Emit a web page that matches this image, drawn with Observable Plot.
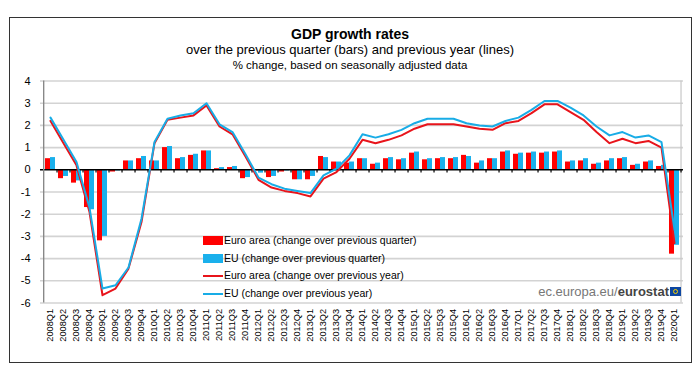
<!DOCTYPE html>
<html>
<head>
<meta charset="utf-8">
<script src="https://cdn.jsdelivr.net/npm/d3@7"></script>
<script src="https://cdn.jsdelivr.net/npm/@observablehq/plot@0.6"></script>
<style>
  html, body { margin: 0; padding: 0; background: #fff; }
  #wrap { position: relative; width: 696px; height: 387px; font-family: "Liberation Sans", Arial, sans-serif; color: #000; }
  #wrap svg { position: absolute; left: 0; top: 0; }
  .t { position: absolute; left: 9px; width: 682px; text-align: center; white-space: nowrap; }
  #border { position: absolute; left: 9px; top: 17px; width: 681px; height: 344px; border: 1px solid #333; pointer-events: none; }
  #legend { position: absolute; left: 203px; top: 232px; font-size: 10.5px; line-height: 17.6px; }
  #legend .row { display: flex; align-items: center; white-space: nowrap; }
  #legend .sw { width: 20px; display: inline-block; margin-right: 1px; }
  #wm { position: absolute; right: 15px; top: 284px; font-size: 13px; color: #777; display: flex; align-items: center; white-space: nowrap; }
  #wm b { color: #444; }
  #flag { display: inline-block; width: 11px; height: 9px; background: #0e47a1; margin-left: 1px; position: relative; }
  #flag::after { content: ""; position: absolute; left: 3px; top: 2px; width: 3px; height: 3px; border: 1px solid #f5d000; border-radius: 50%; }
</style>
</head>
<body>
<div id="wrap">
  <div class="t" style="top:26px;font-size:14px;font-weight:bold;">GDP growth rates</div>
  <div class="t" style="top:42px;font-size:13px;">over the previous quarter (bars) and previous year (lines)</div>
  <div class="t" style="top:59px;font-size:11.5px;">% change, based on seasonally adjusted data</div>
</div>
<script>
const quarters = [
  "2008Q1","2008Q2","2008Q3","2008Q4","2009Q1","2009Q2","2009Q3","2009Q4",
  "2010Q1","2010Q2","2010Q3","2010Q4","2011Q1","2011Q2","2011Q3","2011Q4",
  "2012Q1","2012Q2","2012Q3","2012Q4","2013Q1","2013Q2","2013Q3","2013Q4",
  "2014Q1","2014Q2","2014Q3","2014Q4","2015Q1","2015Q2","2015Q3","2015Q4",
  "2016Q1","2016Q2","2016Q3","2016Q4","2017Q1","2017Q2","2017Q3","2017Q4",
  "2018Q1","2018Q2","2018Q3","2018Q4","2019Q1","2019Q2","2019Q3","2019Q4",
  "2020Q1"
];
const euroAreaQoQ = [
  0.5, -0.4, -0.6, -1.7,  -3.2, -0.1, 0.4, 0.5,
  0.4, 1.0, 0.5, 0.65,    0.85, 0.05, 0.1, -0.4,
  -0.05, -0.35, -0.1, -0.45,  -0.45, 0.6, 0.35, 0.3,
  0.5, 0.25, 0.5, 0.45,   0.75, 0.45, 0.5, 0.5,
  0.65, 0.3, 0.5, 0.8,    0.7, 0.75, 0.75, 0.8,
  0.35, 0.4, 0.25, 0.4,   0.5, 0.2, 0.35, 0.15,
  -3.8
];
const euQoQ = [
  0.55, -0.3, -0.5, -1.8,  -3.0, -0.05, 0.4, 0.6,
  0.4, 1.05, 0.55, 0.7,    0.85, 0.1, 0.15, -0.35,
  -0.15, -0.3, -0.05, -0.45,  -0.3, 0.55, 0.35, 0.35,
  0.5, 0.3, 0.55, 0.5,     0.8, 0.5, 0.55, 0.55,
  0.6, 0.4, 0.5, 0.85,     0.75, 0.8, 0.8, 0.85,
  0.4, 0.5, 0.3, 0.5,      0.55, 0.25, 0.4, 0.2,
  -3.4
];
const euroAreaYoY = [
  2.2, 1.2, 0.2, -1.9,    -5.65, -5.35, -4.45, -2.35,
  1.2, 2.25, 2.35, 2.45,  2.9, 1.95, 1.6, 0.6,
  -0.45, -0.8, -0.95, -1.05,  -1.2, -0.4, -0.1, 0.5,
  1.35, 1.2, 1.35, 1.55,  1.85, 2.05, 2.05, 2.05,
  1.95, 1.85, 1.8, 2.1,   2.2, 2.55, 2.95, 2.95,
  2.6, 2.25, 1.7, 1.2,    1.4, 1.2, 1.3, 1.0,
  -3.3
];
const euYoY = [
  2.35, 1.35, 0.35, -1.7,  -5.35, -5.2, -4.4, -2.2,
  1.25, 2.3, 2.45, 2.55,   3.0, 2.05, 1.7, 0.7,
  -0.35, -0.65, -0.85, -0.95,  -1.05, -0.25, 0.05, 0.65,
  1.6, 1.45, 1.6, 1.8,     2.1, 2.3, 2.3, 2.3,
  2.1, 2.0, 1.95, 2.2,     2.35, 2.7, 3.1, 3.1,
  2.8, 2.45, 1.95, 1.55,   1.7, 1.45, 1.55, 1.25,
  -2.7
];
const yTicks = [-6, -5, -4, -3, -2, -1, 0, 1, 2, 3, 4];
const legendLabels = [
  "Euro area (change over previous quarter)",
  "EU (change over previous quarter)",
  "Euro area (change over previous year)",
  "EU (change over previous year)"
];

const RED = "#ff0000", BLUE = "#1ab0ec", LRED = "#e8141b", LBLUE = "#18ace6";

const rows = quarters.map((q, i) => ({q, ea: euroAreaQoQ[i], eu: euQoQ[i], eaY: euroAreaYoY[i], euY: euYoY[i]}));
const step = (683 - 40) / (quarters.length + 0.24);

const chart = Plot.plot({
  width: 696,
  height: 387,
  marginLeft: 40,
  marginRight: 13,
  marginTop: 80.5,
  marginBottom: 84.5,
  style: {background: "transparent", fontFamily: "Liberation Sans, Arial, sans-serif"},
  x: {type: "band", domain: quarters, padding: 0.24, label: null},
  y: {domain: [-6, 4], label: null},
  marks: [
    Plot.ruleY(yTicks.filter(d => d !== 0), {y: d => d, stroke: "#d3d3d3", strokeWidth: 1.6}),
    Plot.ruleX([0], {x: () => quarters[quarters.length - 1], y1: -6, y2: 4, dx: step / 2, stroke: "#c8c8c8", strokeWidth: 1.2}),
    Plot.barY(rows, {x: "q", y: "ea", fill: RED, insetRight: 5}),
    Plot.barY(rows, {x: "q", y: "eu", fill: BLUE, insetLeft: 5}),
    Plot.ruleY([0], {stroke: "#000", strokeWidth: 1.6}),
    Plot.ruleX(quarters, {x: d => d, y1: 0, y2: -0.14, dx: step / 2, stroke: "#000", strokeWidth: 1.2}),
    Plot.line(rows, {x: "q", y: "eaY", stroke: LRED, strokeWidth: 2}),
    Plot.line(rows, {x: "q", y: "euY", stroke: LBLUE, strokeWidth: 2}),
    Plot.ruleX([0], {x: () => quarters[0], y1: -6, y2: 4, dx: -step / 2 - 0.3, stroke: "#888", strokeWidth: 1.4}),
    Plot.axisY({ticks: yTicks, tickSize: 0, tickPadding: 10, fontSize: 11, tickFormat: d => String(d).replace("\u2212", "-")}),
    Plot.axisX({tickSize: 0, tickPadding: 6, tickRotate: -90, fontSize: 9.2})
  ]
});
const wrap = document.getElementById("wrap");
wrap.insertBefore(chart, wrap.firstChild);
chart.querySelectorAll("text").forEach(t => { t.textContent = t.textContent.replace("\u2212", "-"); });

const legend = document.createElement("div");
legend.id = "legend";
const sw = [
  `<span class="sw" style="height:9px;background:${RED}"></span>`,
  `<span class="sw" style="height:9px;background:${BLUE}"></span>`,
  `<span class="sw" style="height:2px;background:${LRED}"></span>`,
  `<span class="sw" style="height:2px;background:${LBLUE}"></span>`
];
legend.innerHTML = legendLabels.map((l, i) => `<div class="row">${sw[i]}<span>${l}</span></div>`).join("");
wrap.appendChild(legend);

const wm = document.createElement("div");
wm.id = "wm";
wm.innerHTML = `<span>ec.europa.eu/</span><b>eurostat</b><span id="flag"></span>`;
wrap.appendChild(wm);

const border = document.createElement("div");
border.id = "border";
wrap.appendChild(border);
</script>
</body>
</html>
